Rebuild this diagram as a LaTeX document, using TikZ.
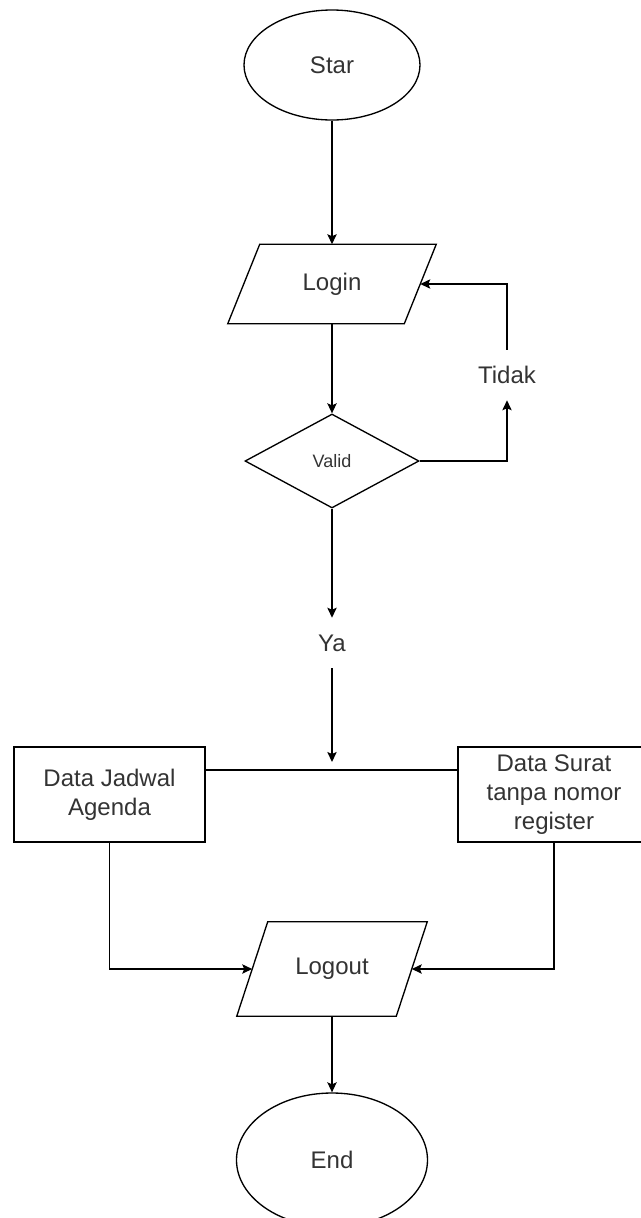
\documentclass[tikz,border=0pt]{standalone}
\usepackage{fontspec}
\setmainfont{Liberation Sans}
\usetikzlibrary{shapes.geometric,arrows.meta,calc}
\begin{document}
\begin{tikzpicture}[x=0.75pt,y=-0.75pt,
  every node/.style={text=black!80, font=\fontsize{18}{22}\selectfont},
  line/.style={draw=black, line width=1pt},
  arr/.style={line, -{Stealth[length=7.5pt,width=7pt,inset=1.5pt]}},
  term/.style={ellipse, draw, line width=1pt, inner sep=0pt},
  io/.style={rectangle, inner sep=0pt},
  proc/.style={rectangle, draw, line width=1pt, align=center, inner sep=0pt},
  dec/.style={diamond, draw, line width=1pt, inner sep=0pt},
  lbl/.style={inner sep=0pt, minimum height=37.5pt}]
\useasboundingbox (0,0) rectangle (640,1218);

% nodes
\node[term, minimum width=132pt, minimum height=82.5pt] (star) at (332,65) {Star};
\node[io, minimum width=132pt, minimum height=59.25pt] (login) at (332,284) {Login};
\draw[line] ($(login.north west)+(16,0)$) -- ($(login.north east)+(16,0)$)
  -- ($(login.south east)+(-16,0)$) -- ($(login.south west)+(-16,0)$) -- cycle;
\node[dec, minimum width=130.5pt, minimum height=70.5pt, font=\fontsize{13.5}{16}\selectfont] (valid) at (332,461) {Valid};
\node[lbl] (tidak) at (507,375) {Tidak};
\node[lbl] (ya) at (332,643) {Ya};
\node[proc, minimum width=143.25pt, minimum height=71.25pt] (jadwal) at (109.5,794.5) {Data Jadwal\\Agenda};
\node[proc, minimum width=144pt, minimum height=71.25pt] (surat) at (554,794.5) {Data Surat\\tanpa nomor\\register};
\node[io, minimum width=119.25pt, minimum height=70.5pt] (logout) at (332,969) {Logout};
\draw[line] ($(logout.north west)+(15.5,0)$) -- ($(logout.north east)+(15.5,0)$)
  -- ($(logout.south east)+(-15.5,0)$) -- ($(logout.south west)+(-15.5,0)$) -- cycle;
\node[term, minimum width=143.25pt, minimum height=100.5pt] (end) at (332,1160) {End};
\coordinate (junc) at (332,770);

% connectors
\draw[arr] (star) -- (login);
\draw[arr] (login) -- (valid);
\draw[arr] (valid.east) -| (tidak.south);
\draw[arr] (tidak.north) |- (login.east);
\draw[arr] (valid) -- (ya);
\draw[arr, shorten >=6pt] (ya) -- (junc);
\draw[line] (jadwal.east |- junc) -- (surat.west |- junc);
\draw[arr] (jadwal.south) |- (logout.west);
\draw[arr] (surat.south) |- (logout.east);
\draw[arr] (logout) -- (end);
\end{tikzpicture}
\end{document}
